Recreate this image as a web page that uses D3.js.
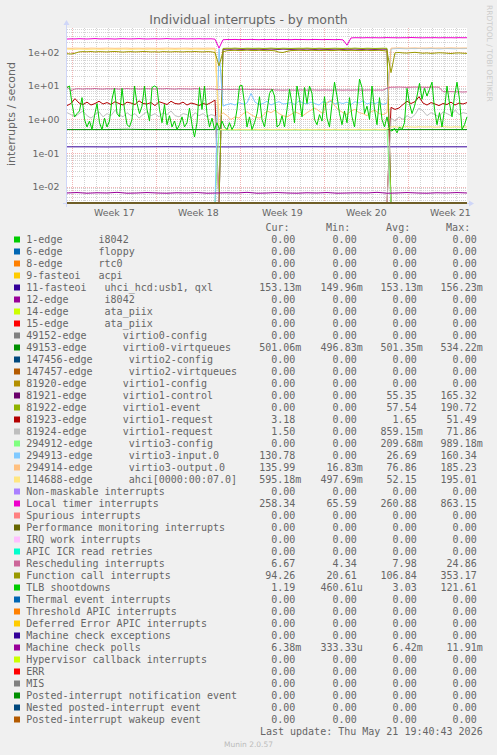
<!DOCTYPE html>
<html><head><meta charset="utf-8">
<script src="https://cdn.jsdelivr.net/npm/d3@7"></script>
<style>body{margin:0;background:#F0F0F0}svg{display:block}text{white-space:pre}</style>
</head><body>
<svg id="c" width="497" height="755"></svg>
<script>
// ---------- data ----------
const chartTitle = "Individual interrupts - by month";
const yAxisLabel = "interrupts / second";
const timeStart = new Date("2026-04-19T13:24:00Z");
const timeEnd = new Date("2026-05-22T21:24:00Z");
const weekStarts = ["2026-04-20","2026-04-27","2026-05-04","2026-05-11","2026-05-18"];
const weekLabels = ["Week 17","Week 18","Week 19","Week 20","Week 21"];
const yTickValues = [0.01, 0.1, 1, 10, 100];
const yTickLabels = ["1e-02","1e-01","1e+00","1e+01","1e+02"];
const yMin = 0.00322, yMax = 538;

const labels = [
"1-edge      i8042","6-edge      floppy","8-edge      rtc0","9-fasteoi   acpi",
"11-fasteoi   uhci_hcd:usb1, qxl","12-edge      i8042","14-edge      ata_piix","15-edge      ata_piix",
"49152-edge      virtio0-config","49153-edge      virtio0-virtqueues","147456-edge      virtio2-config",
"147457-edge      virtio2-virtqueues","81920-edge      virtio1-config","81921-edge      virtio1-control",
"81922-edge      virtio1-event","81923-edge      virtio1-request","81924-edge      virtio1-request",
"294912-edge      virtio3-config","294913-edge      virtio3-input.0","294914-edge      virtio3-output.0",
"114688-edge      ahci[0000:00:07.0]","Non-maskable interrupts","Local timer interrupts","Spurious interrupts",
"Performance monitoring interrupts","IRQ work interrupts","APIC ICR read retries","Rescheduling interrupts",
"Function call interrupts","TLB shootdowns","Thermal event interrupts","Threshold APIC interrupts",
"Deferred Error APIC interrupts","Machine check exceptions","Machine check polls","Hypervisor callback interrupts",
"ERR","MIS","Posted-interrupt notification event","Nested posted-interrupt event","Posted-interrupt wakeup event"];

const colors = ["#00CC00","#0066B3","#FF8000","#FFCC00","#330099","#990099","#CCFF00","#FF0000","#808080","#008F00",
"#00487D","#B35A00","#B38F00","#6B006B","#8FB300","#B30000","#BEBEBE","#80FF80","#80C9FF","#FFC080","#FFE680",
"#AA80FF","#EE00CC","#FF8080","#666600","#FFBFFF","#00FFCC","#CC6699","#999900","#00CC00","#0066B3","#FF8000",
"#FFCC00","#330099","#990099","#CCFF00","#FF0000","#808080","#008F00","#00487D","#B35A00"];

const curVals = ["0.00","0.00","0.00","0.00","153.13m","0.00","0.00","0.00","0.00","501.06m","0.00","0.00","0.00",
"0.00","0.00","3.18","1.50","0.00","130.78","135.99","595.18m","0.00","258.34","0.00","0.00","0.00","0.00","6.67",
"94.26","1.19","0.00","0.00","0.00","0.00","6.38m","0.00","0.00","0.00","0.00","0.00","0.00"];
const minVals = ["0.00","0.00","0.00","0.00","149.96m","0.00","0.00","0.00","0.00","496.83m","0.00","0.00","0.00",
"0.00","0.00","0.00","0.00","0.00","0.00","16.83m","497.69m","0.00","65.59","0.00","0.00","0.00","0.00","4.34",
"20.61","460.61u","0.00","0.00","0.00","0.00","333.33u","0.00","0.00","0.00","0.00","0.00","0.00"];
const avgVals = ["0.00","0.00","0.00","0.00","153.13m","0.00","0.00","0.00","0.00","501.35m","0.00","0.00","0.00",
"55.35","57.54","1.65","859.15m","209.68m","26.69","76.86","52.15","0.00","260.88","0.00","0.00","0.00","0.00","7.98",
"106.84","3.03","0.00","0.00","0.00","0.00","6.42m","0.00","0.00","0.00","0.00","0.00","0.00"];
const maxVals = ["0.00","0.00","0.00","0.00","156.23m","0.00","0.00","0.00","0.00","534.22m","0.00","0.00","0.00",
"165.32","190.72","51.49","71.86","989.18m","160.34","185.23","195.01","0.00","863.15","0.00","0.00","0.00","0.00","24.86",
"353.17","121.61","0.00","0.00","0.00","0.00","11.91m","0.00","0.00","0.00","0.00","0.00","0.00"];
const lastUpdate = "Last update: Thu May 21 19:40:43 2026";

// series samples, evenly spread over [timeStart, timeEnd]
const irq11 = [0.153,0.153,0.152,0.153,0.153,0.154,0.153,0.153,0.152,0.153,0.153,0.153,0.154,0.153,0.153,0.152,0.153,0.153,0.153,0.153,0.153];
const virtio0Queues = [0.50,0.50,0.50,0.51,0.50,0.50,0.50,0.50,0.50,0.50,0.50,0.50,0.50,0.50,0.50,0.50,0.50,0.50,0.50,0.50,0.50];
const virtio1Control = [0,0,0,0,0,0,0,0,0,0, 0,0,0,0,0,0,0,0,0,0, 0,0,0,0,0,0,0,0,0,0, 0,0,0,0,0,0,0,0,0,
124,126,125,127,125,124,126,125,125,126,124,125,127,125,124,126,125,124,125,126,125,127,125,124,126,125,124,125,126,125,124,126,125,127,125,124,126,125,124,125,126,125,
0,0,0,0,0,0,0,0,0,0,0,0,0,0,0,0,0,0,0,0];
const virtio1Event = [0,0,0,0,0,0,0,0,0,0, 0,0,0,0,0,0,0,0,0,0, 0,0,0,0,0,0,0,0,0,0, 0,0,0,0,0,0,0,0,0,
132,134,133,135,133,132,134,133,133,134,132,133,135,133,132,134,133,132,133,134,133,135,133,132,134,133,132,133,134,133,132,134,133,135,133,132,134,133,132,133,134,133,
0,0,0,0,0,0,0,0,0,0,0,0,0,0,0,0,0,0,0,0];
const virtio1Req1 = [2.6,3.0,4.2,3.1,2.8,3.3,2.7,3.0,3.5,2.9,3.2,2.8,3.4,3.0,2.7,3.3,3.1,2.8,3.6,3.0,2.9,3.2,2.6,3.4,3.1,2.8,3.5,3.0,2.9,3.3,2.7,3.1,2.9,2.6,3.0,2.8,3.2,3.8,
0,0,0,0,0,0,0,0,0,0, 0,0,0,0,0,0,0,0,0,0, 0,0,0,0,0,0,0,0,0,0, 0,0,0,0,0,0,0,0,0,0, 0,0,0,
2.3,2.0,2.2,2.8,3.5,3.0,3.4,4.8,3.1,2.7,3.2,2.9,2.6,3.0,2.8,3.3,2.7,3.1,2.9,3.2];
const virtio1Req2 = [1.6,1.4,1.2,1.5,1.8,1.3,1.1,1.4,1.7,1.2,1.5,1.3,1.9,1.4,1.2,1.6,1.3,1.5,1.1,1.4,1.7,1.3,1.5,1.2,1.6,1.4,1.8,1.3,1.2,1.5,1.4,1.1,1.6,1.3,1.5,1.2,1.4,1.3,
0,0,0,0,0,0,0,0,0,0, 0,0,0,0,0,0,0,0,0,0, 0,0,0,0,0,0,0,0,0,0, 0,0,0,0,0,0,0,0,0,0, 0,0,0,
1.1,0.9,1.2,1.0,1.3,1.1,1.4,2.2,1.8,1.3,1.6,1.4,1.2,1.7,1.5,1.3,1.9,1.4,1.6,1.5];
const virtio3Config = [0,0,0,0,0,0,0,0,0,0, 0,0,0,0,0,0,0,0,0,0, 0,0,0,0,0,0,0,0,0,0, 0,0,0,0,0,0,0,0,
0.49,0.49,0.49,0.49,0.49,0.49,0.49,0.49,0.49,0.49,0.49,0.49,0.49,0.49,0.49,0.49,0.49,0.49,0.49,0.49,0.49,0.49,
0.49,0.49,0.49,0.49,0.49,0.49,0.49,0.49,0.49,0.49,0.49,0.49,0.49,0.49,0.49,0.49,0.49,0.49,0.49,0.49,0.49,
0,0,0,0,0,0,0,0,0,0,0,0,0,0,0,0,0,0,0,0];
const virtio3Input = [0,0,0,0,0,0,0,0,0,0, 0,0,0,0,0,0,0,0,0,0, 0,0,0,0,0,0,0,0,0,0, 0,0,0,0,0,0,0,0, 130,
2.5,2.8,3.0,2.7,3.2,2.9,3.1,6.0,3.3,2.8,3.0,3.5,2.7,3.1,3.4,2.9,3.0,3.2,2.8,3.6,3.1,2.9,3.3,3.0,2.7,3.4,3.1,3.5,2.9,3.2,3.0,3.3,2.8,3.4,3.1,3.6,2.9,3.2,3.0,3.3,2.8,3.1,
128,130,131,130,129,131,130,132,130,129,131,130,128,130,131,130,129,131,130,131];
const virtio3Output = [134,133,135,134,134,133,135,134,133,134,135,134,133,134,134,135,133,134,134,133,135,134,134,133,134,135,134,133,134,134,135,133,134,134,133,135,134,134,
1.2,
1.6,1.3,1.0,1.2,1.1,1.5,1.7,1.4,1.2,1.1,1.3,1.8,1.6,1.9,1.5,1.3,1.2,1.4,1.7,1.5,1.3,1.6,1.9,2.2,1.8,1.5,3.2,3.8,2.5,1.9,1.6,1.4,1.8,2.0,1.6,1.5,1.3,1.7,1.9,1.5,1.4,1.6,
135,136,137,136,135,136,137,135,136,136,137,135,136,135,136,137,136,135,136,136];
const ahci = [126,125,124,126,125,124,125,126,125,124,126,125,125,124,126,125,124,125,126,125,124,126,125,125,124,126,125,124,125,126,125,124,126,125,125,124,126,125,
0.50,
0.50,0.51,0.50,0.50,0.51,0.50,0.50,0.50,0.51,0.50,0.50,0.51,0.50,0.50,0.51,0.50,0.50,0.50,0.51,0.50,0.50,0.51,0.50,0.50,0.51,0.50,0.50,0.50,0.51,0.50,0.50,0.51,0.50,0.50,0.51,0.50,0.50,0.50,0.51,0.50,0.50,0.51,
0.60,0.61,0.59,0.60,0.62,0.60,0.59,0.61,0.60,0.60,0.61,0.59,0.60,0.62,0.60,0.59,0.61,0.60,0.60,0.60];
const localTimer = [252,255,254,258,255,253,256,260,255,254,257,255,252,256,258,255,254,256,259,255,253,255,257,254,256,260,255,253,255,257,254,256,255,258,254,255,256,250,
135,
240,244,243,245,242,244,243,246,243,241,244,243,245,242,243,244,243,241,245,243,244,242,243,245,243,242,244,243,241,244,238,
165,
272,276,275,274,277,275,276,274,275,278,276,275,274,276,275,280,277,275,274,276,275,277,274,276,275,276,274,277,275,276];
const rescheduling = [9.5,7.2,8.2,8.3,8.1,8.3,8.2,8.4,8.2,8.1,8.3,8.2,8.3,8.1,8.2,8.4,8.2,8.3,8.1,8.2,8.3,8.2,8.1,8.3,8.2,8.4,8.2,8.1,8.3,8.2,8.2,8.1,8.3,8.2,8.0,8.1,8.2,8.0,
7.8,
7.9,8.0,7.9,8.0,7.9,8.0,8.0,7.9,8.0,7.9,8.0,7.9,8.0,7.6,7.6,7.5,7.6,7.6,7.5,7.6,7.6,7.5,7.6,7.6,7.5,7.6,7.6,7.5,7.6,7.6,7.5,7.6,7.5,7.6,7.6,7.5,7.6,7.6,7.5,7.6,7.5,8.6,
9.2,9.2,9.3,9.2,9.1,9.2,9.3,9.2,9.2,9.1,9.2,9.3,9.2,6.8,6.7,6.8,6.7,6.7,6.6,6.7];
const functionCall = [92,90,95,104,106,105,107,104,106,105,104,106,107,105,103,105,106,104,105,107,106,104,105,103,106,105,104,106,105,104,106,105,107,105,104,106,105,100,
40,
105,113,115,116,114,115,117,115,114,116,115,113,115,112,102,100,108,114,115,116,115,114,116,115,114,115,116,114,115,117,115,114,116,115,114,115,116,114,115,116,114,110,
25,98,100,97,96,99,101,98,95,97,94,96,98,97,95,93,96,97,95,94];
const tlb = [9,10,3,1.2,1.5,1.8,4.5,1.0,0.6,0.9,
0.5,1.3,3.0,0.8,0.5,1.1,0.6,0.9,4,8.5,
1.5,1.2,8.5,2,0.7,0.6,1.0,10,3,1.5,
2.5,10,2,0.9,9,10,9,2,0.8,2.8,
0.7,1.3,0.6,0.9,0.5,0.7,1.2,0.6,0.8,2.2,
0.7,0.3,0.8,9,2,10,1.5,0.6,1.1,0.5,
0.8,0.5,0.9,0.6,0.5,0.8,0.5,0.7,2,10,
10.5,3,0.6,1.2,0.5,0.8,1.5,4.8,1,0.6,
1.8,6,8,5,0.6,0.7,1.3,0.6,2,8,
3,0.8,10,4,1.2,9,3,10,6,1,
0.7,1.4,0.9,4.8,1.1,0.6,3,13,5,1.5,
0.7,1.8,0.8,4.5,1.2,0.6,2.5,16,9,1.5,
2.5,1.0,10,2,0.7,4.5,1.0,0.6,1.2,0.5,
0.45,0.55,0.4,0.6,0.5,0.8,8.5,3,1.5,2.5,
5,12,4,8.5,5,8,13,2,0.7,1.6,
0.6,2,10,3,1.2,5,13,4,0.5,0.7,
1.2];
const mcePolls = [0.0064,0.0066,0.0063,0.0065,0.0064,0.0067,0.0063,0.0064,0.0066,0.0064,0.0063,0.0065,0.0064,0.0066,0.0063,0.0064,0.0065,0.0064,0.0067,0.0063,
0.0064,0.0066,0.0064,0.0063,0.0065,0.0064,0.0066,0.0063,0.0064,0.0065,0.0064,0.0067,0.0063,0.0064,0.0066,0.0064,0.0063,0.0065,0.0064,0.0066,0.0064];

const seriesValues = [[0,0],[0,0],[0,0],[0,0],irq11,[0,0],[0,0],[0,0],[0,0],virtio0Queues,[0,0],[0,0],[0,0],
virtio1Control,virtio1Event,virtio1Req1,virtio1Req2,virtio3Config,virtio3Input,virtio3Output,ahci,[0,0],localTimer,
[0,0],[0,0],[0,0],[0,0],rescheduling,functionCall,tlb,[0,0],[0,0],[0,0],[0,0],mcePolls,[0,0],[0,0],[0,0],[0,0],[0,0],[0,0]];

// ---------- drawing ----------
const svg = d3.select("#c");
const P = {left:67, right:467, top:28, bottom:203};
const FONT_C = "#666666", AXIS_C = "#CFD6F8";
const MINOR_C = "rgba(143,143,143,0.38)", MAJOR_C = "rgba(222,79,79,0.42)";
svg.append("rect").attr("width",497).attr("height",755).attr("fill","#F0F0F0");
svg.append("rect").attr("x",P.left).attr("y",P.top).attr("width",P.right-P.left).attr("height",P.bottom-P.top).attr("fill","#FFFFFF");

const x = d3.scaleUtc().domain([timeStart,timeEnd]).range([P.left,P.right]);
const y = d3.scaleLog().domain([yMin,yMax]).range([P.bottom,P.top]);
const crisp = v => Math.round(v) + 0.5;
const grid = svg.append("g").attr("stroke-width",1).attr("stroke-dasharray","1,1").attr("fill","none");

// horizontal grid
const decadeSet = new Set(yTickValues.map(v=>v.toPrecision(3)));
y.ticks().filter(v => !decadeSet.has(v.toPrecision(3))).forEach(v=>{
  grid.append("line").attr("x1",P.left).attr("x2",P.right).attr("y1",crisp(y(v))).attr("y2",crisp(y(v))).attr("stroke",MINOR_C);
});
yTickValues.forEach(v=>{
  grid.append("line").attr("x1",P.left).attr("x2",P.right).attr("y1",crisp(y(v))).attr("y2",crisp(y(v))).attr("stroke",MAJOR_C);
});
// vertical grid
const mondays = weekStarts.map(s=>+new Date(s+"T00:00:00Z"));
d3.utcDay.range(timeStart,timeEnd).forEach(d=>{
  const major = mondays.includes(+d);
  grid.append("line").attr("y1",P.top).attr("y2",P.bottom).attr("x1",crisp(x(d)-0.5)).attr("x2",crisp(x(d)-0.5))
    .attr("stroke", major ? MAJOR_C : MINOR_C);
});

// axes
const ax = svg.append("g");
ax.append("line").attr("x1",P.left-4).attr("x2",P.right+3).attr("y1",P.bottom+0.5).attr("y2",P.bottom+0.5).attr("stroke",AXIS_C);
ax.append("path").attr("d",`M${P.right+2},${P.bottom-2.5}L${P.right+7},${P.bottom+0.5}L${P.right+2},${P.bottom+3.5}Z`).attr("fill",AXIS_C);
ax.append("line").attr("x1",P.left-0.5).attr("x2",P.left-0.5).attr("y1",P.bottom+4).attr("y2",P.top-3).attr("stroke",AXIS_C);
ax.append("path").attr("d",`M${P.left-3.5},${P.top-3}L${P.left-0.5},${P.top-8}L${P.left+2.5},${P.top-3}Z`).attr("fill",AXIS_C);

// series
const lineFor = vals => d3.line()
  .x((d,i)=> x(new Date(+timeStart + (timeEnd-timeStart)*i/(vals.length-1))))
  .y(d => y(Math.min(yMax, Math.max(yMin, d))))(vals);
const gS = svg.append("g").attr("fill","none").attr("stroke-width",1).attr("stroke-linejoin","round");
seriesValues.forEach((vals,i)=>{
  gS.append("path").attr("d",lineFor(vals)).attr("stroke",colors[i]);
});

// tick labels
const tickFont = "DejaVu Sans, sans-serif";
yTickValues.forEach((v,i)=>{
  svg.append("text").attr("x",59.5).attr("y",y(v)+3.5).attr("text-anchor","end")
    .attr("font-family",tickFont).attr("font-size",9.4).attr("fill",FONT_C).text(yTickLabels[i]);
});
weekStarts.forEach((s,i)=>{
  const mid = new Date(+new Date(s+"T00:00:00Z") + 3.5*86400000);
  svg.append("text").attr("x",x(mid)).attr("y",215.5).attr("text-anchor","middle")
    .attr("font-family",tickFont).attr("font-size",9.4).attr("fill",FONT_C).text(weekLabels[i]);
});

// title, axis label, watermark
svg.append("text").attr("x",248.5).attr("y",23.5).attr("text-anchor","middle").attr("font-family",tickFont)
  .attr("font-size",12.5).attr("fill",FONT_C).text(chartTitle);
svg.append("text").attr("transform","translate(15,114) rotate(-90)").attr("text-anchor","middle").attr("font-family",tickFont)
  .attr("font-size",11).attr("fill",FONT_C).text(yAxisLabel);
svg.append("text").attr("transform","translate(486.5,5) rotate(90)").attr("font-family",tickFont)
  .attr("font-size",7.5).attr("fill","#CCCCCC").text("RRDTOOL / TOBI OETIKER");

// legend
const mono = "DejaVu Sans Mono, monospace";
const colDigitX = [295.3, 356.7, 416.7, 476.7];
const headerX = [289.5, 350.2, 410.2, 470.2];
["Cur:","Min:","Avg:","Max:"].forEach((h,i)=>{
  svg.append("text").attr("x",headerX[i]).attr("y",231).attr("text-anchor","end").attr("font-family",mono)
    .attr("font-size",10).attr("fill",FONT_C).text(h);
});
const valCols = [curVals,minVals,avgVals,maxVals];
labels.forEach((lab,i)=>{
  const base = 243 + 12*i;
  svg.append("rect").attr("x",14).attr("y",base-6.5).attr("width",6).attr("height",6).attr("fill",colors[i]);
  svg.append("text").attr("x",26.3).attr("y",base).attr("font-family",mono).attr("font-size",10)
    .attr("fill",FONT_C).attr("xml:space","preserve").text(lab);
  valCols.forEach((col,c)=>{
    const m = col[i].match(/^([\d.]+)([a-zµ]?)$/);
    svg.append("text").attr("x",colDigitX[c]).attr("y",base).attr("text-anchor","end").attr("font-family",mono)
      .attr("font-size",10).attr("fill",FONT_C).text(m[1]);
    if (m[2]) svg.append("text").attr("x",colDigitX[c]).attr("y",base).attr("font-family",mono)
      .attr("font-size",10).attr("fill",FONT_C).text(m[2]);
  });
});
svg.append("text").attr("x",482.7).attr("y",735).attr("text-anchor","end").attr("font-family",mono)
  .attr("font-size",10).attr("fill",FONT_C).text(lastUpdate);
svg.append("text").attr("x",248.5).attr("y",746.5).attr("text-anchor","middle").attr("font-family",tickFont)
  .attr("font-size",7.5).attr("fill","#BBBBBB").text("Munin 2.0.57");
</script>
</body></html>
